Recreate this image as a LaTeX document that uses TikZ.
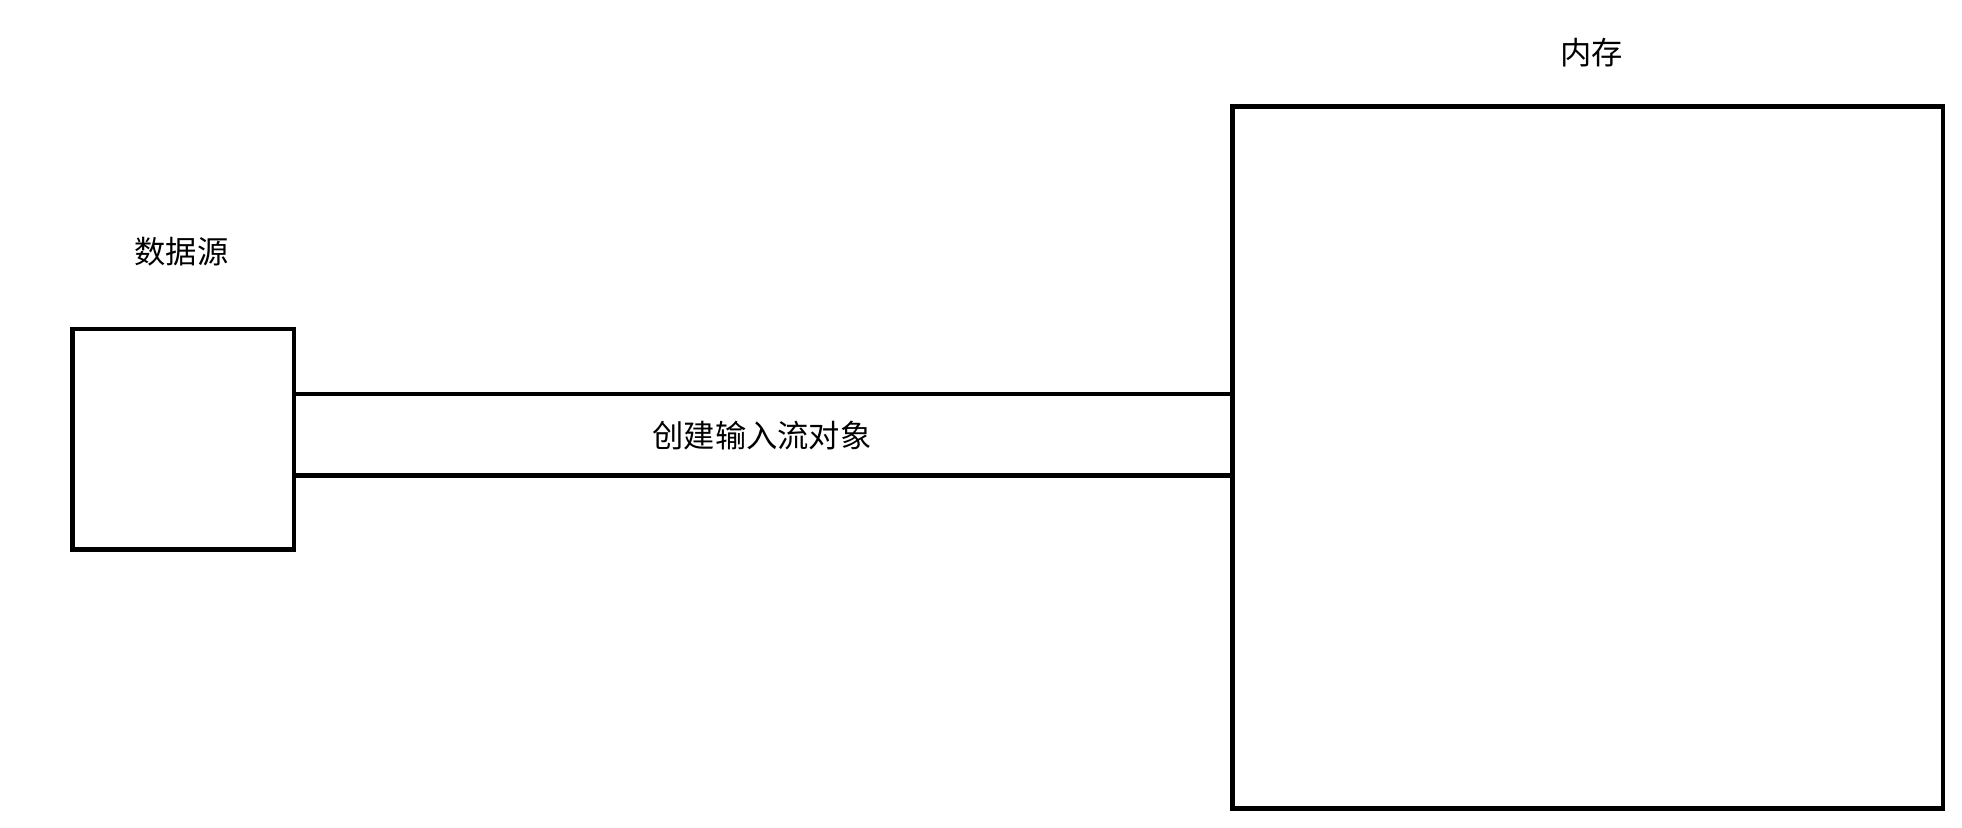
\documentclass[tikz,border=0pt]{standalone}
\usepackage{fontspec}
\newfontfamily\cjk{Noto Sans CJK SC}
\begin{document}
\begin{tikzpicture}[x=1pt,y=-1pt,line width=3.5pt,
  lbl/.style={font=\cjk\fontsize{25}{30}\selectfont,inner sep=0pt}]
\useasboundingbox (0,0) rectangle (1568,661);
\node[draw,minimum width=177pt,minimum height=176pt,inner sep=0pt] (src) at (146.5,351) {};
\node[draw,minimum width=568pt,minimum height=561pt,inner sep=0pt] (mem) at (1269,365.5) {};
\coordinate (a1) at (235,315); \coordinate (a2) at (985,315);
\coordinate (b1) at (235,380); \coordinate (b2) at (985,380);
\draw (a1) -- (a2);
\draw (b1) -- (b2);
\node[lbl] (t1) at (145,201) {数据源};
\node[lbl] (t2) at (1272,42) {内存};
\node[lbl] (t3) at (609,348) {创建输入流对象};
\end{tikzpicture}
\end{document}
